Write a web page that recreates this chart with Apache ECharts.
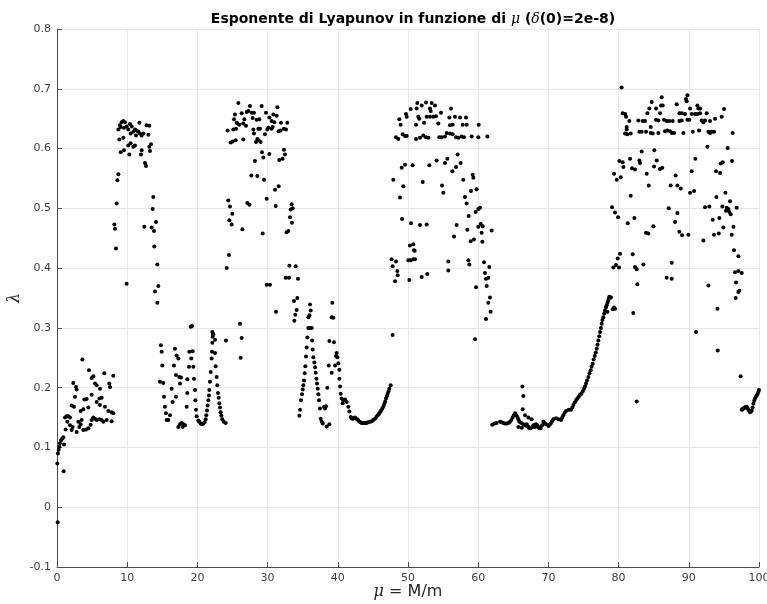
<!DOCTYPE html>
<html>
<head>
<meta charset="utf-8">
<script src="https://cdn.jsdelivr.net/npm/echarts@6/dist/echarts.min.js"></script>
<style>html,body{margin:0;padding:0;background:#fff}#c{width:767px;height:604px}</style>
</head>
<body>
<div id="c"></div>
<script>
// x tick labels / y tick labels
const xTicks = [0,10,20,30,40,50,60,70,80,90,100];
const yTicks = [-0.1,0,0.1,0.2,0.3,0.4,0.5,0.6,0.7,0.8];

// mu in [0, 9): low band
const region1 = [[0.1,-0.025],[0.05,0.073],[0.95,0.06],[0.14,0.09],[0.24,0.096],[0.33,0.101],[0.42,0.107],[0.57,0.112],[0.76,0.115],[0.9,0.117],[1.0,0.105],
[2.32,0.208],[2.7,0.201],[2.8,0.197],[3.61,0.247],[4.56,0.229],[4.94,0.216],[5.17,0.219],[5.41,0.207],[5.65,0.204],[6.12,0.198],[6.74,0.224],[7.45,0.207],[7.55,0.201],[8.02,0.22],[2.56,0.185],[2.09,0.17],[2.42,0.168],[3.89,0.18],[4.22,0.181],[3.37,0.161],[3.75,0.164],[4.46,0.167],[4.94,0.188],[5.65,0.176],[6.03,0.182],[6.36,0.183],[6.12,0.171],[6.83,0.168],[7.31,0.161],[7.78,0.159],[8.02,0.157],[1.23,0.13],[1.14,0.15],[1.37,0.152],[1.61,0.152],[1.85,0.15],[1.47,0.143],[1.85,0.137],[2.09,0.129],[2.23,0.134],[2.8,0.126],[3.04,0.143],[3.18,0.134],[3.37,0.139],[3.51,0.146],[3.75,0.129],[4.13,0.13],[4.46,0.132],[4.79,0.138],[4.94,0.146],[5.17,0.15],[5.41,0.148],[5.65,0.146],[6.03,0.147],[6.36,0.146],[6.6,0.143],[7.07,0.146],[7.78,0.144]];

// mu in [8, 17.5)
const region2 = [[8.74,0.632],[8.97,0.639],[9.21,0.644],[9.45,0.646],[9.69,0.644],[9.07,0.636],[9.54,0.635],[9.92,0.637],[10.4,0.641],[10.64,0.637],[10.16,0.632],[10.49,0.625],[10.87,0.628],[11.11,0.632],[11.35,0.63],[11.59,0.628],[11.73,0.643],[11.82,0.625],[12.06,0.622],[12.3,0.625],[12.77,0.639],[13.15,0.638],[13.01,0.623],[11.25,0.622],[8.88,0.615],[9.45,0.618],[10.16,0.605],[10.49,0.609],[10.87,0.603],[11.11,0.605],[9.07,0.594],[9.54,0.597],[10.3,0.59],[12.06,0.597],[11.97,0.59],[13.15,0.603],[13.39,0.607],[13.25,0.596],[12.54,0.576],[12.68,0.571],[8.74,0.557],[8.6,0.547],[8.5,0.508],[8.17,0.473],[8.26,0.466],[8.4,0.433],[13.72,0.519],[13.63,0.499],[14.1,0.477],[12.44,0.469],[13.49,0.468],[13.82,0.462],[13.86,0.436],[14.29,0.406],[9.92,0.374],[14.44,0.37],[13.96,0.361],[14.3,0.342],
[14.81,0.271],[14.91,0.26],[15.0,0.237],[14.67,0.21],[15.14,0.208],[15.24,0.185],[15.38,0.168],[15.52,0.157],[15.62,0.146],[15.86,0.146],[16.1,0.154],[16.33,0.198],[16.47,0.176],[16.66,0.237],[16.8,0.265],[16.95,0.185],[17.04,0.254],[17.28,0.249],[17.28,0.134],[17.42,0.218],[16.95,0.221]];

// mu in [17.5, 34.5)
const region3 = [[25.83,0.676],[27.49,0.671],[29.15,0.671],[31.39,0.669],[27.02,0.661],[27.25,0.663],[27.73,0.66],[28.06,0.66],[25.35,0.657],[26.3,0.659],[29.77,0.66],[30.82,0.657],[31.29,0.655],[25.21,0.649],[26.68,0.649],[27.87,0.651],[28.44,0.648],[28.82,0.649],[30.25,0.652],[30.58,0.646],[30.96,0.644],[31.91,0.643],[32.81,0.643],[25.69,0.642],[25.97,0.64],[26.54,0.642],[26.92,0.638],[25.59,0.643],[24.31,0.63],[25.12,0.632],[25.5,0.633],[27.97,0.632],[28.68,0.633],[28.92,0.633],[29.96,0.632],[30.1,0.635],[30.58,0.633],[30.72,0.636],[31.58,0.629],[31.86,0.63],[32.33,0.633],[32.62,0.632],[28.06,0.625],[29.63,0.624],[28.54,0.616],[28.73,0.614],[28.35,0.611],[29.01,0.611],[26.54,0.615],[24.74,0.61],[25.02,0.612],[25.45,0.614],[29.2,0.594],[30.25,0.591],[32.33,0.598],[32.48,0.59],[29.39,0.585],[28.2,0.579],[31.67,0.581],[32.14,0.583],[27.68,0.555],[28.54,0.554],[29.49,0.548],[31.58,0.537],[31.05,0.531],[29.87,0.516],[24.4,0.513],[24.64,0.503],[27.11,0.509],[27.4,0.506],[31.15,0.504],[33.43,0.507],[33.57,0.5],[33.28,0.498],[24.97,0.491],[33.19,0.485],[24.55,0.48],[24.88,0.473],[33.47,0.476],[26.4,0.465],[29.3,0.458],[32.71,0.46],[32.95,0.462],[24.5,0.422],[24.17,0.4],
[29.87,0.372],[30.34,0.372],[31.2,0.327],
[19.04,0.302],[19.23,0.303],[18.85,0.26],[19.32,0.261],[19.13,0.249],[18.8,0.235],[19.42,0.235],[17.66,0.217],[17.52,0.207],[18.56,0.214],[19.51,0.215],[18.56,0.191],[19.66,0.196],[19.7,0.179],[18.47,0.168],[19.8,0.163],[19.9,0.152],[17.76,0.141],[18.0,0.139],[18.23,0.137],[17.9,0.134],[17.52,0.139],
[20.13,0.145],[20.27,0.143],[20.46,0.14],[20.65,0.139],[20.84,0.14],[21.03,0.142],[21.18,0.147],[21.27,0.154],[21.37,0.162],[21.46,0.17],[21.56,0.179],[21.65,0.187],[21.7,0.196],[21.79,0.21],[21.89,0.226],[22.03,0.249],[22.08,0.26],[22.13,0.275],[22.17,0.285],[22.22,0.29],[22.13,0.293],
[22.27,0.289],[22.51,0.28],[22.51,0.258],[22.6,0.236],[22.74,0.218],[22.84,0.204],[22.93,0.191],[23.03,0.183],[23.12,0.174],[23.22,0.167],[23.31,0.159],[23.41,0.153],[23.55,0.147],[23.74,0.143],[24.03,0.141],
[24.07,0.279],[26.07,0.307],[26.3,0.283],[26.16,0.25]];

// mu in [33, 48)
const region4 = [[33.1,0.404],[34.0,0.403],[32.58,0.384],[33.05,0.384],[34.33,0.382],[34.24,0.35],[33.76,0.345],[34.14,0.33],[33.95,0.322],[33.81,0.312],
[34.52,0.153],[34.62,0.163],[34.76,0.179],[34.9,0.189],[35.0,0.197],[35.09,0.204],[35.19,0.212],[35.28,0.224],[35.38,0.236],[35.47,0.252],[35.57,0.267],[35.66,0.284],[35.81,0.3],[35.95,0.3],[36.28,0.3],[35.81,0.318],[35.95,0.321],[36.14,0.329],[36.04,0.339],
[36.33,0.279],[36.42,0.264],[36.52,0.251],[36.66,0.242],[36.76,0.234],[36.85,0.225],[36.95,0.215],[37.04,0.207],[37.14,0.198],[37.23,0.189],[37.33,0.179],[37.47,0.165],[37.56,0.148],[37.71,0.143],[37.85,0.14],[38.42,0.135],[38.8,0.139],[38.04,0.168],[38.32,0.169],[38.18,0.165],
[39.22,0.342],[39.13,0.318],[39.37,0.317],[38.8,0.278],[39.46,0.276],[39.84,0.258],[39.75,0.253],[39.94,0.251],[39.6,0.237],[40.08,0.241],[38.7,0.237],[39.13,0.225],[40.22,0.23],[40.22,0.215],[40.32,0.202],[38.51,0.2],[40.41,0.19],[40.55,0.182],[40.79,0.179],[41.03,0.18],[41.27,0.176],[40.7,0.174],
[41.5,0.168],[41.65,0.16],[41.84,0.151],[41.98,0.149],[42.12,0.148],[42.3,0.149],[42.45,0.15],[42.62,0.148],[42.79,0.147],[42.93,0.145],[43.07,0.143],[43.25,0.142],[43.4,0.141],[43.65,0.141],[43.88,0.141],[44.1,0.141],[44.35,0.142],[44.6,0.143],[44.83,0.144],[45.05,0.146],[45.3,0.148],[45.5,0.151],[45.68,0.154],[45.85,0.156],[46.01,0.159],[46.18,0.162],[46.35,0.165],[46.5,0.169],[46.63,0.173],[46.75,0.177],[46.87,0.182],[47.0,0.186],[47.11,0.19],[47.22,0.194],[47.34,0.198],[47.53,0.204]];

// mu in [47, 62.5)
const region5 = [[51.33,0.676],[51.95,0.672],[52.56,0.677],[53.37,0.676],[53.84,0.672],[50.38,0.666],[51.23,0.667],[49.71,0.658],[49.81,0.653],[53.13,0.667],[53.23,0.663],[54.7,0.66],[56.12,0.667],[51.47,0.653],[51.61,0.65],[52.66,0.653],[53.13,0.653],[53.61,0.653],[53.99,0.654],[55.89,0.652],[56.69,0.653],[57.41,0.652],[58.26,0.652],[48.76,0.649],[48.95,0.64],[51.14,0.64],[52.28,0.643],[54.32,0.642],[55.98,0.639],[56.36,0.64],[57.79,0.64],[58.36,0.64],[60.07,0.64],
[48.29,0.619],[48.62,0.616],[49.24,0.624],[49.57,0.621],[49.81,0.621],[51.14,0.616],[51.71,0.618],[52.18,0.622],[52.56,0.619],[52.9,0.618],[54.46,0.619],[54.8,0.619],[55.27,0.62],[55.51,0.626],[55.98,0.625],[56.36,0.624],[56.84,0.619],[57.17,0.618],[57.64,0.62],[57.98,0.619],[59.07,0.62],[60.02,0.619],[61.3,0.62],
[57.07,0.59],[49.1,0.568],[49.57,0.573],[50.66,0.572],[53.04,0.572],[54.08,0.58],[55.27,0.576],[55.6,0.583],[57.5,0.576],[56.84,0.569],[56.31,0.562],[59.21,0.556],[59.31,0.551],[47.91,0.548],[52.09,0.544],[49.33,0.537],[54.84,0.538],[55.03,0.526],[57.88,0.548],[58.97,0.529],[59.78,0.532],[48.86,0.518],[58.12,0.519],[58.36,0.508],[60.26,0.501],[60.02,0.499],[59.64,0.494],[58.64,0.487],[49.15,0.482],[50.43,0.475],[51.71,0.472],[52.66,0.473],[56.93,0.472],[58.45,0.464],[60.35,0.474],[60.64,0.47],[60.02,0.469],[61.92,0.463],[60.49,0.459],[56.55,0.453],[59.4,0.448],[58.92,0.445],[60.59,0.444],[50.28,0.438],[50.76,0.44],[50.85,0.43],
[47.67,0.415],[48.29,0.411],[47.81,0.403],[48.48,0.395],[48.53,0.388],[48.15,0.378],[50.19,0.38],[51.95,0.385],[52.75,0.39],[50.05,0.413],[50.38,0.413],[50.76,0.415],[51.0,0.415],[50.95,0.429],[55.74,0.411],[55.74,0.396],[58.59,0.413],[58.74,0.406],[60.83,0.41],[61.58,0.402],[60.97,0.392],[61.44,0.384],[61.11,0.382],[59.69,0.368],[61.21,0.37],[61.68,0.351],[61.44,0.342],[61.77,0.327],[61.11,0.315],[47.81,0.288],[59.54,0.281]];

// mu in [62, 80)
const region6 = [[66.29,0.202],[66.43,0.186],[66.34,0.164],[66.67,0.154],[67.15,0.15],[67.62,0.147],[66.91,0.139],[65.72,0.134],[66.2,0.133],[67.86,0.137],[67.29,0.132],[68.1,0.134],[68.71,0.132],
[62.0,0.138],[62.3,0.14],[62.6,0.141],[63.11,0.143],[63.35,0.142],[63.58,0.141],[63.82,0.14],[64.06,0.14],[64.3,0.141],[64.53,0.143],[64.72,0.146],[64.91,0.15],[65.08,0.154],[65.25,0.157],[65.42,0.154],[65.58,0.151],[65.72,0.147],[65.86,0.143],[66.15,0.141],[66.43,0.139],[66.67,0.137],[66.91,0.136],[67.2,0.134],[67.48,0.132],[67.86,0.134],[68.05,0.137],[68.24,0.139],[68.4,0.137],[68.57,0.134],[68.9,0.132],[69.1,0.137],[69.28,0.143],[69.47,0.141],[69.66,0.139],[70.0,0.136],[70.17,0.138],[70.33,0.14],[70.52,0.144],[70.71,0.147],[71.09,0.149],[71.42,0.147],[71.8,0.146],[71.97,0.15],[72.13,0.154],[72.32,0.158],[72.51,0.161],[72.89,0.163],[73.22,0.163],[73.4,0.167],[73.56,0.171],[73.75,0.175],[73.94,0.179],[74.13,0.182],[74.32,0.185],[74.5,0.188],[74.7,0.19],[74.9,0.194],[75.08,0.198],[75.22,0.202],[75.36,0.207],[75.5,0.212],[75.69,0.218],[75.85,0.224],[76.02,0.229],[76.15,0.235],[76.31,0.24],[76.45,0.247],[76.6,0.253],[76.75,0.259],[76.88,0.265],[77.0,0.272],[77.12,0.279],[77.24,0.286],[77.36,0.293],[77.48,0.3],[77.59,0.307],[77.7,0.313],[77.83,0.318],[77.95,0.324],[78.07,0.329],[78.2,0.334],[78.3,0.338],[78.42,0.342],[78.54,0.346],[78.6,0.349],[78.68,0.352],[78.92,0.351],[78.4,0.327],[79.16,0.331],[79.35,0.334],[79.5,0.332]];

// mu in [79, 100]
const region7 = [[82.1,0.325],[82.58,0.177],[82.67,0.373],
[80.44,0.702],[86.14,0.686],[89.8,0.689],[89.6,0.683],[89.7,0.679],[84.71,0.678],[86.04,0.672],[86.28,0.672],[88.28,0.674],[91.22,0.672],[91.36,0.667],[91.6,0.667],[84.38,0.667],[85.33,0.667],[90.18,0.667],[95.02,0.666],[80.58,0.659],[80.92,0.658],[84.1,0.659],[85.9,0.659],[88.66,0.659],[89.0,0.659],[89.46,0.658],[90.41,0.658],[90.89,0.658],[91.22,0.658],[91.6,0.659],[92.55,0.659],[81.06,0.653],[94.69,0.653],[93.74,0.65],[81.53,0.646],[82.81,0.647],[83.43,0.646],[83.76,0.646],[85.33,0.648],[85.66,0.647],[86.47,0.648],[86.85,0.646],[87.23,0.646],[87.71,0.646],[88.66,0.646],[88.99,0.647],[89.8,0.648],[90.08,0.648],[91.84,0.647],[92.07,0.644],[92.31,0.647],[93.02,0.646],[81.15,0.636],[84.57,0.636],[81.15,0.632],[80.92,0.625],[81.25,0.624],[81.72,0.625],[82.96,0.628],[83.29,0.628],[83.91,0.628],[84.57,0.626],[84.86,0.625],[85.66,0.626],[86.61,0.629],[86.95,0.63],[87.33,0.629],[87.57,0.626],[87.9,0.626],[89.23,0.626],[90.56,0.628],[91.46,0.63],[92.79,0.628],[93.02,0.626],[93.26,0.628],[93.59,0.628],[96.25,0.626],
[92.65,0.603],[95.54,0.601],[83.29,0.595],[85.09,0.597],[90.93,0.583],[80.11,0.579],[80.58,0.577],[81.63,0.583],[82.96,0.58],[83.05,0.576],[85.43,0.58],[85.05,0.57],[85.9,0.566],[86.23,0.568],[80.68,0.569],[81.91,0.567],[82.34,0.565],[94.83,0.577],[94.55,0.575],[96.16,0.579],[90.41,0.562],[93.88,0.562],[94.45,0.559],[79.35,0.558],[79.73,0.548],[80.3,0.552],[84.0,0.558],[88.13,0.555],[84.29,0.538],[87.42,0.538],[88.37,0.538],[88.85,0.533],[90.18,0.526],[90.75,0.529],[81.72,0.521],[95.21,0.526],[93.93,0.519],[95.87,0.512],[79.06,0.502],[87.14,0.5],[92.31,0.502],[92.93,0.503],[94.78,0.503],[95.4,0.501],[95.64,0.499],[96.82,0.501],[79.49,0.493],[88.37,0.492],[95.3,0.496],[95.78,0.494],[95.97,0.49],[79.92,0.485],[82.25,0.484],[94.35,0.484],[93.4,0.481],[88.04,0.477],[81.3,0.475],[84.95,0.47],[94.92,0.468],[96.35,0.469],[88.66,0.461],[83.91,0.459],[84.24,0.458],[89.04,0.455],[89.94,0.456],[93.59,0.456],[94.26,0.458],[96.11,0.456],[92.07,0.446],[96.44,0.43],[97.06,0.42],[80.2,0.424],[79.87,0.416],[82.01,0.423],[79.63,0.405],[79.25,0.401],[80.06,0.401],[82.34,0.402],[82.58,0.398],[83.53,0.406],[87.57,0.409],[86.85,0.384],[87.57,0.382],[96.58,0.393],[97.06,0.395],[97.54,0.392],
[92.79,0.371],[96.73,0.376],[97.2,0.362],[97.06,0.36],[96.68,0.35],[94.07,0.332],[91.03,0.293],[94.12,0.262],[97.39,0.219],
[97.54,0.163],[97.66,0.164],[97.77,0.165],[97.9,0.166],[98.0,0.167],[98.12,0.168],[98.25,0.168],[98.37,0.166],[98.49,0.163],[98.6,0.161],[98.72,0.159],[98.85,0.16],[98.96,0.162],[99.08,0.167],[99.2,0.173],[99.32,0.178],[99.43,0.182],[99.55,0.185],[99.67,0.187],[99.8,0.19],[99.91,0.193],[100.0,0.196]];

const allPoints = [].concat(region1, region2, region3, region4, region5, region6, region7);

const chart = echarts.init(document.getElementById('c'), null, {renderer: 'canvas'});
const FONT = 'DejaVu Sans';
chart.setOption({
  animation: false,
  backgroundColor: '#ffffff',
  title: {
    text: 'Esponente di Lyapunov in funzione di {i|μ} ({i|δ}(0)=2e-8)',
    left: 408, top: 7, textAlign: 'center',
    textStyle: {
      fontFamily: FONT, fontWeight: 'bold', fontSize: 14, color: '#000',
      rich: { i: { fontFamily: 'DejaVu Serif', fontStyle: 'italic', fontWeight: 'normal', fontSize: 14, color: '#000' } }
    }
  },
  grid: { left: 57, right: 8, top: 29, bottom: 37, containLabel: false, outerBoundsMode: 'none' },
  xAxis: {
    type: 'value', min: xTicks[0], max: xTicks[xTicks.length - 1], interval: 10,
    name: '{i|μ} = M/m', nameLocation: 'middle', nameGap: 17, nameMoveOverlap: false,
    nameTextStyle: { fontFamily: FONT, fontSize: 16, color: '#262626',
      rich: { i: { fontFamily: 'DejaVu Serif', fontStyle: 'italic', fontSize: 16, color: '#262626' } } },
    axisLine: { show: true, onZero: false, lineStyle: { color: '#4d4d4d', width: 1 } },
    axisTick: { show: true, inside: true, length: 5, lineStyle: { color: '#4d4d4d' } },
    axisLabel: { fontFamily: FONT, fontSize: 11, color: '#404040', margin: 6 },
    splitLine: { show: true, lineStyle: { color: '#e8e8e8', width: 1 } }
  },
  yAxis: {
    type: 'value', min: yTicks[0], max: yTicks[yTicks.length - 1], interval: 0.1,
    name: 'λ', nameLocation: 'middle', nameGap: 34, nameRotate: 90, nameMoveOverlap: false,
    nameTextStyle: { fontFamily: 'DejaVu Serif', fontStyle: 'italic', fontSize: 16, color: '#262626' },
    axisLine: { show: true, onZero: false, lineStyle: { color: '#4d4d4d', width: 1 } },
    axisTick: { show: true, inside: true, length: 5, lineStyle: { color: '#4d4d4d' } },
    axisLabel: { fontFamily: FONT, fontSize: 11, color: '#404040', margin: 6,
      formatter: v => String(+(+v).toFixed(1)) },
    splitLine: { show: true, lineStyle: { color: '#e8e8e8', width: 1 } }
  },
  series: [{
    type: 'scatter',
    data: allPoints,
    symbol: 'circle',
    symbolSize: 4,
    itemStyle: { color: '#000000', opacity: 1 },
    silent: true
  }]
});
</script>
</body>
</html>
